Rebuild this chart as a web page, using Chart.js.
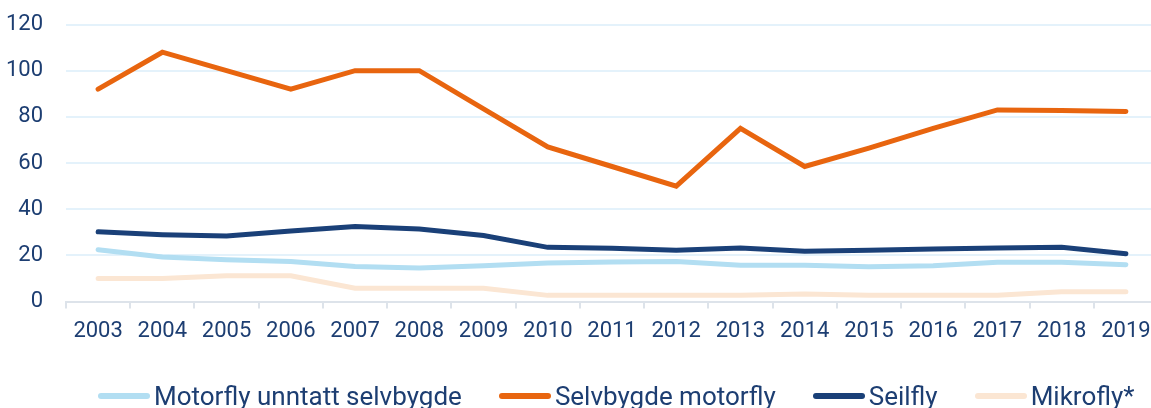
<!DOCTYPE html>
<html>
<head>
<meta charset="utf-8">
<script src="https://cdn.jsdelivr.net/npm/chart.js@4.4.1/dist/chart.umd.min.js"></script>
<style>
  html, body { margin: 0; padding: 0; background: #fff; overflow: hidden; }
  #wrap { position: relative; width: 1160px; height: 408px; }
  #legend {
    position: absolute; left: 98px; top: 381px; height: 30px;
    display: flex; align-items: center;
    font-family: Roboto, "Noto Sans", sans-serif; font-size: 26px; line-height: 30px;
    color: #1d3e72; white-space: nowrap;
  }
  .item { display: flex; align-items: center; margin-right: 37px; }
  .swatch { width: 52px; height: 6px; border-radius: 3px; margin-right: 4px; }
</style>
</head>
<body>
<div id="wrap">
  <canvas id="chart"></canvas>
  <div id="legend"></div>
</div>
<script>
const years = ['2003', '2004', '2005', '2006', '2007', '2008', '2009', '2010', '2011',
    '2012', '2013', '2014', '2015', '2016', '2017', '2018', '2019'];
const motorfly = [22.5, 19.3, 18.1, 17.4, 15.2, 14.5, 15.5, 16.7, 17.2, 17.4, 15.7, 15.7, 15.1, 15.5, 17, 17, 16];
const selvbygde = [92, 108, 100, 92, 100, 100, 83.5, 67, 58.5, 50, 75, 58.5, 66.5, 75, 83, 82.8, 82.3];
const seilfly = [30.2, 29, 28.4, 30.6, 32.5, 31.4, 28.6, 23.5, 23.1, 22.2, 23.2, 21.8, 22.2, 22.8, 23.2, 23.5, 20.7];
const mikrofly = [10, 10, 11.2, 11.2, 5.8, 5.8, 5.8, 2.7, 2.7, 2.7, 2.7, 3.3, 2.7, 2.7, 2.7, 4.3, 4.3];
const yTicks = [0, 20, 40, 60, 80, 100, 120];
const legendOrder = ['Motorfly unntatt selvbygde', 'Selvbygde motorfly', 'Seilfly', 'Mikrofly*'];

const textColor = '#1d3e72';
const fontFamily = 'Roboto, "Noto Sans", sans-serif';

function series(label, data, color) {
    return {
        label: label,
        data: data,
        borderColor: color,
        backgroundColor: color,
        borderWidth: 5,
        pointRadius: 0,
        tension: 0,
        borderCapStyle: 'round',
        borderJoinStyle: 'miter'
    };
}

const ctx = document.getElementById('chart').getContext('2d');
const chart = new Chart(ctx, {
    type: 'line',
    data: {
        labels: years,
        datasets: [
            series('Mikrofly*', mikrofly, '#fbe6d3'),
            series('Motorfly unntatt selvbygde', motorfly, '#b2def2'),
            series('Seilfly', seilfly, '#1a4078'),
            series('Selvbygde motorfly', selvbygde, '#e8650f')
        ]
    },
    options: {
        responsive: true,
        maintainAspectRatio: false,
        animation: false,
        layout: { padding: { top: 0, left: 6, right: 2, bottom: 53 } },
        plugins: {
            tooltip: { enabled: false },
            legend: { display: false }
        },
        scales: {
            x: {
                offset: true,
                grid: {
                    offset: true,
                    drawOnChartArea: false,
                    drawTicks: true,
                    tickLength: 7,
                    color: '#dde3ea',
                    lineWidth: 2
                },
                border: { display: true, color: '#dde3ea', width: 2 },
                ticks: {
                    color: textColor,
                    font: { family: fontFamily, size: 22 },
                    padding: 10,
                    maxRotation: 0,
                    autoSkip: false
                },
                afterFit: function (scale) {
                    scale.paddingLeft = 0;
                    scale.paddingRight = 0;
                }
            },
            y: {
                min: 0,
                max: 120,
                afterBuildTicks: function (axis) {
                    axis.ticks = yTicks.map(function (v) { return { value: v }; });
                },
                grid: {
                    color: '#e4f2fb',
                    lineWidth: 2,
                    drawTicks: false
                },
                border: { display: false },
                ticks: {
                    color: textColor,
                    font: { family: fontFamily, size: 22 },
                    padding: 23
                },
                afterFit: function (scale) {
                    scale.width = 60;
                    scale.paddingTop = 24.5;
                    scale.paddingBottom = 0;
                }
            }
        }
    }
});

// legend built from the dataset colours
const legendEl = document.getElementById('legend');
legendOrder.forEach(function (name) {
    const ds = chart.data.datasets.find(function (d) { return d.label === name; });
    const item = document.createElement('div');
    item.className = 'item';
    item.innerHTML = '<span class="swatch" style="background:' + ds.borderColor + '"></span><span>' + name + '</span>';
    legendEl.appendChild(item);
});
</script>
</body>
</html>
